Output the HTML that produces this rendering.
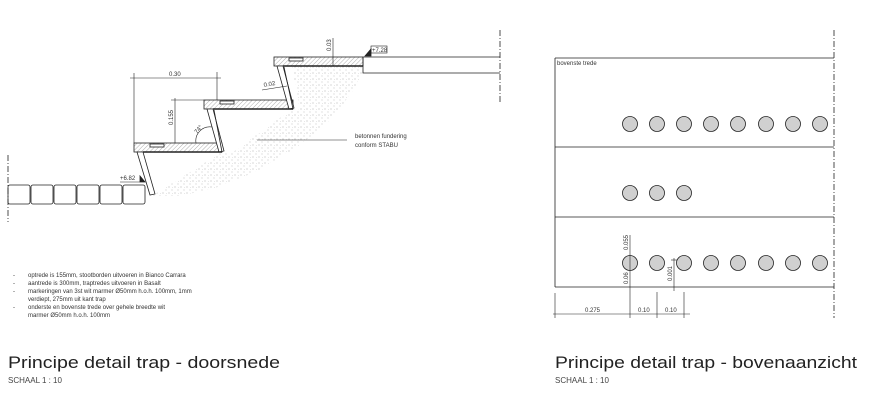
<!DOCTYPE html>
<html><head><meta charset="utf-8"><style>
html,body{margin:0;padding:0;background:#fff;}
svg{display:block;font-family:"Liberation Sans",sans-serif;}
</style></head><body>
<svg width="873" height="400" viewBox="0 0 873 400" xmlns="http://www.w3.org/2000/svg">
<defs>
<pattern id="dots" width="6" height="6" patternUnits="userSpaceOnUse">
<circle cx="1" cy="1" r="0.5" fill="#999"/><circle cx="4" cy="4" r="0.45" fill="#aaa"/><circle cx="4.5" cy="1.5" r="0.35" fill="#bbb"/>
</pattern>
<pattern id="hatch" width="3" height="3" patternUnits="userSpaceOnUse" patternTransform="rotate(45)">
<line x1="0" y1="0" x2="0" y2="3" stroke="#777" stroke-width="0.6"/>
</pattern>
</defs>
<g stroke="#222" fill="none" stroke-width="0.8">
<polygon points="152,196 222,152 232,153 292,109 300,110 292,66 363,66 363,73 350,95 330,120 300,145 275,160 255,172 215,188 180,196" fill="url(#dots)" stroke="none"/>
<line x1="8" y1="155" x2="8" y2="222" stroke-dasharray="6,2,1,2"/>
<line x1="500" y1="30" x2="500" y2="102" stroke-dasharray="6,2,1,2"/>
<rect x="8" y="185" width="22" height="19" rx="2"/>
<rect x="31" y="185" width="22" height="19" rx="2"/>
<rect x="54" y="185" width="22" height="19" rx="2"/>
<rect x="77" y="185" width="22" height="19" rx="2"/>
<rect x="100" y="185" width="22" height="19" rx="2"/>
<rect x="123" y="185" width="22" height="19" rx="2"/>
<rect x="134" y="143" width="88" height="9" fill="url(#hatch)"/>
<rect x="204" y="100" width="89" height="9" fill="url(#hatch)"/>
<rect x="274" y="57" width="89" height="9" fill="url(#hatch)"/>
<rect x="150" y="144" width="14" height="3" fill="#fff"/>
<rect x="220" y="101" width="14" height="3" fill="#fff"/>
<rect x="289" y="58" width="14" height="3" fill="#fff"/>
<polygon points="137,152 143,152 155,194 150,195" fill="#fff"/>
<polygon points="207,109 213,109 224,151 219,152" fill="#fff"/>
<polygon points="277,66 283,66 294,108 289,109" fill="#fff"/>
<line x1="143" y1="152" x2="222" y2="152" stroke-width="1.5"/>
<line x1="213" y1="109" x2="293" y2="109" stroke-width="1.5"/>
<line x1="283" y1="66" x2="363" y2="66" stroke-width="1.5"/>
<line x1="222" y1="152" x2="214" y2="110"/>
<line x1="293" y1="109" x2="284" y2="67"/>
<polyline points="500,57 363,57 363,73 500,73"/>
<line x1="130" y1="78" x2="221" y2="78" stroke-width="0.6"/>
<line x1="134" y1="73" x2="134" y2="143" stroke-width="0.6"/>
<line x1="217" y1="72" x2="217" y2="100" stroke-width="0.6"/>
<line x1="171" y1="100" x2="204" y2="100" stroke-width="0.6"/>
<line x1="175" y1="98" x2="175" y2="143" stroke-width="0.6"/>
<line x1="333" y1="38" x2="333" y2="66" stroke-width="0.6"/>
<line x1="262" y1="90" x2="287" y2="86" stroke-width="0.6"/>
<path d="M196,143 A14,14 0 0 1 212,127" stroke-width="0.6"/>
<line x1="257" y1="140" x2="347" y2="140" stroke-width="0.6"/>
<rect x="371" y="46" width="16" height="7" stroke-width="0.6"/>
<polygon points="365,56 371,49 371,56" fill="#222"/>
<line x1="120" y1="182" x2="140" y2="182" stroke-width="0.6"/>
<polygon points="140,182 140,176 145,182" fill="#222"/>
</g>
<g font-size="6" fill="#333">
<text x="169" y="76">0.30</text>
<text x="173" y="125" transform="rotate(-90 173 125)">0.155</text>
<text x="264" y="87" transform="rotate(-10 264 87)">0.02</text>
<text x="331" y="51" transform="rotate(-90 331 51)">0.03</text>
<text x="197" y="134" transform="rotate(-50 197 134)">74°</text>
<text x="372" y="52">+7.28</text>
<text x="120" y="180">+6.82</text>
<text x="355" y="138">betonnen fundering</text>
<text x="355" y="147">conform STABU</text>
<text x="13" y="277">-</text><text x="28" y="277">optrede is 155mm, stootborden uitvoeren in Bianco Carrara</text>
<text x="13" y="285">-</text><text x="28" y="285">aantrede is 300mm, traptredes uitvoeren in Basalt</text>
<text x="13" y="293">-</text><text x="28" y="293">markeringen van 3st wit marmer Ø50mm h.o.h. 100mm, 1mm</text>
<text x="28" y="301">verdiept, 275mm uit kant trap</text>
<text x="13" y="309">-</text><text x="28" y="309">onderste en bovenste trede over gehele breedte wit</text>
<text x="28" y="317">marmer Ø50mm h.o.h. 100mm</text>
</g>
<g stroke="#222" fill="none" stroke-width="0.8">
<line x1="834" y1="30" x2="834" y2="318" stroke-dasharray="6,2,1,2"/>
<line x1="555" y1="58" x2="834" y2="58"/>
<line x1="555" y1="147" x2="834" y2="147"/>
<line x1="555" y1="217" x2="834" y2="217"/>
<line x1="555" y1="287" x2="834" y2="287"/>
<line x1="555" y1="58" x2="555" y2="287"/>
<g fill="#d0d0d0">
<circle cx="630" cy="124" r="7.5"/><circle cx="657" cy="124" r="7.5"/><circle cx="684" cy="124" r="7.5"/><circle cx="711" cy="124" r="7.5"/><circle cx="738" cy="124" r="7.5"/><circle cx="766" cy="124" r="7.5"/><circle cx="793" cy="124" r="7.5"/><circle cx="820" cy="124" r="7.5"/>
<circle cx="630" cy="193" r="7.5"/><circle cx="657" cy="193" r="7.5"/><circle cx="684" cy="193" r="7.5"/>
<circle cx="630" cy="263" r="7.5"/><circle cx="657" cy="263" r="7.5"/><circle cx="684" cy="263" r="7.5"/><circle cx="711" cy="263" r="7.5"/><circle cx="738" cy="263" r="7.5"/><circle cx="766" cy="263" r="7.5"/><circle cx="793" cy="263" r="7.5"/><circle cx="820" cy="263" r="7.5"/>
</g>
<g stroke-width="0.6">
<line x1="553" y1="314" x2="690" y2="314"/>
<line x1="555" y1="293" x2="555" y2="318"/>
<line x1="630" y1="235" x2="630" y2="318"/>
<line x1="657" y1="292" x2="657" y2="318"/>
<line x1="684" y1="292" x2="684" y2="318"/>
<line x1="674" y1="258" x2="674" y2="291"/>
<line x1="671" y1="260" x2="677" y2="260"/>
</g>
</g>
<g font-size="6" fill="#333">
<text x="557" y="65">bovenste trede</text>
<text x="585" y="312">0.275</text>
<text x="638" y="312">0.10</text>
<text x="665" y="312">0.10</text>
<text x="628" y="250" transform="rotate(-90 628 250)">0.055</text>
<text x="628" y="284" transform="rotate(-90 628 284)">0.06</text>
<text x="672" y="281" transform="rotate(-90 672 281)">0.001</text>
</g>
<g fill="#222">
<text x="8" y="368" font-size="17" textLength="272" lengthAdjust="spacingAndGlyphs">Principe detail trap - doorsnede</text>
<text x="8" y="383" font-size="8" fill="#444">SCHAAL 1 : 10</text>
<text x="555" y="368" font-size="17" textLength="302" lengthAdjust="spacingAndGlyphs">Principe detail trap - bovenaanzicht</text>
<text x="555" y="383" font-size="8" fill="#444">SCHAAL 1 : 10</text>
</g>
</svg>
</body></html>
